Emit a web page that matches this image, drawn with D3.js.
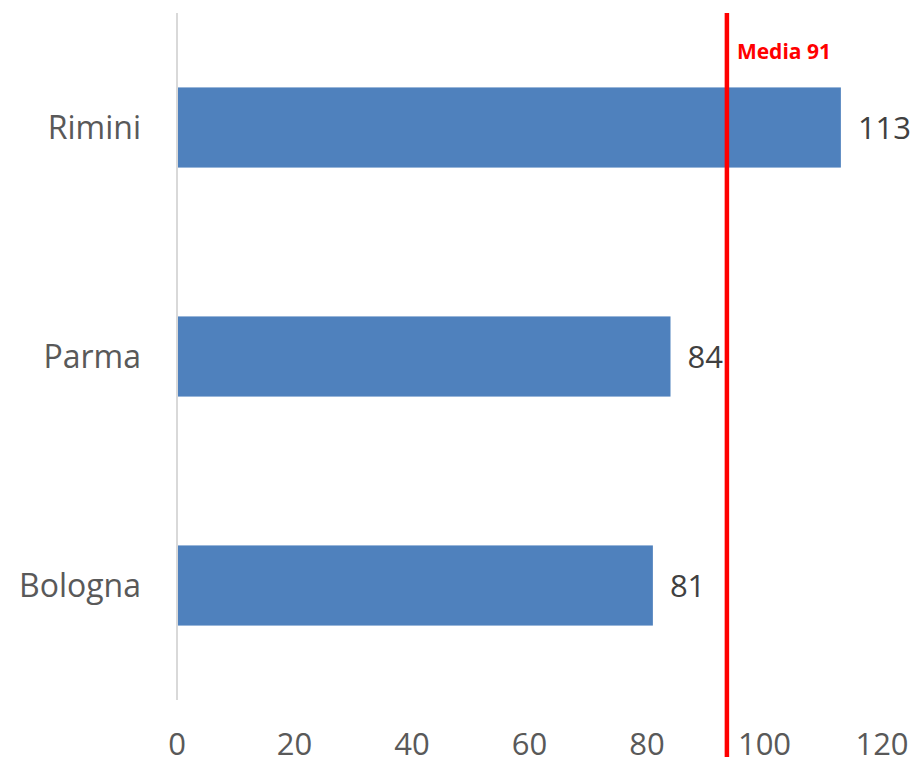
<!DOCTYPE html>
<html>
<head>
<meta charset="utf-8">
<script src="https://cdn.jsdelivr.net/npm/d3@7"></script>
<style>
  body { margin: 0; background: #fff; }
  svg text { font-family: "Open Sans", sans-serif; }
</style>
</head>
<body>
<svg id="chart" width="915" height="762"></svg>
<script>
var categories = ["Rimini", "Parma", "Bologna"];
var values = [113, 84, 81];
var ticks = [0, 20, 40, 60, 80, 100, 120];
var mediaLabel = "Media 91";
var mediaPos = 93.6; // where the red line sits in the picture

var svg = d3.select("#chart");

var x = d3.scaleLinear().domain([0, 120]).range([177, 882]);
var y = d3.scaleBand().domain(categories).range([13, 700])
  .paddingInner(0.65).paddingOuter(0.325);

// vertical axis line
svg.append("line")
  .attr("x1", x(0)).attr("x2", x(0))
  .attr("y1", 13).attr("y2", 700)
  .attr("stroke", "#d9d9d9")
  .attr("stroke-width", 2);

// bars
svg.selectAll("rect.bar")
  .data(values)
  .enter().append("rect")
  .attr("class", "bar")
  .attr("x", x(0) + 1)
  .attr("y", (d, i) => y(categories[i]))
  .attr("width", d => x(d) - x(0) - 1)
  .attr("height", y.bandwidth())
  .attr("fill", "#4f81bd");

// value labels
svg.selectAll("text.val")
  .data(values)
  .enter().append("text")
  .attr("class", "val")
  .attr("x", d => x(d) + 17)
  .attr("y", (d, i) => y(categories[i]) + y.bandwidth() / 2)
  .attr("dy", "0.36em")
  .attr("font-size", 31)
  .attr("fill", "#404040")
  .text(d => d);

// category labels
svg.selectAll("text.cat")
  .data(categories)
  .enter().append("text")
  .attr("class", "cat")
  .attr("x", 141)
  .attr("y", d => y(d) + y.bandwidth() / 2)
  .attr("dy", "0.36em")
  .attr("text-anchor", "end")
  .attr("font-size", 32)
  .attr("fill", "#595959")
  .text(d => d);

// x tick labels
svg.selectAll("text.tick")
  .data(ticks)
  .enter().append("text")
  .attr("class", "tick")
  .attr("x", d => x(d))
  .attr("y", 755)
  .attr("text-anchor", "middle")
  .attr("font-size", 31)
  .attr("fill", "#595959")
  .text(d => d);

// media line
svg.append("line")
  .attr("x1", x(mediaPos)).attr("x2", x(mediaPos))
  .attr("y1", 13).attr("y2", 757)
  .attr("stroke", "#ff0000")
  .attr("stroke-width", 4.5);

svg.append("text")
  .attr("x", x(mediaPos) + 10)
  .attr("y", 59)
  .attr("font-size", 21)
  .attr("font-weight", "bold")
  .attr("fill", "#ff0000")
  .text(mediaLabel);
</script>
</body>
</html>
